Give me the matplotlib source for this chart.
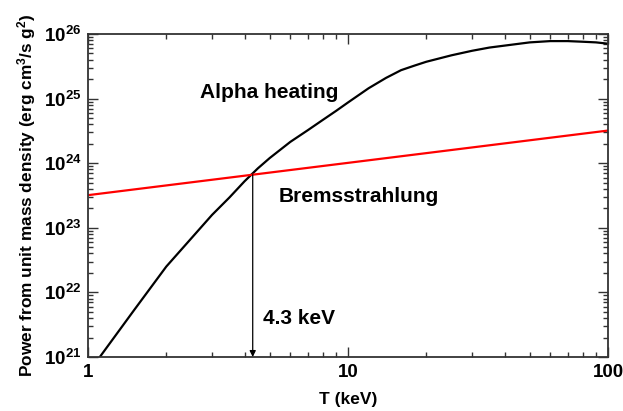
import numpy as np
import matplotlib
matplotlib.use("Agg")
import matplotlib.pyplot as plt
from matplotlib.ticker import LogLocator, FuncFormatter, NullFormatter

plt.rcParams['font.family'] = ['Liberation Sans', 'DejaVu Sans']
plt.rcParams['font.weight'] = 'bold'
plt.rcParams['mathtext.fontset'] = 'custom'
plt.rcParams['mathtext.rm'] = 'Liberation Sans:bold'
plt.rcParams['mathtext.bf'] = 'Liberation Sans:bold'
plt.rcParams['mathtext.it'] = 'Liberation Sans:bold'
plt.rcParams['mathtext.default'] = 'bf'

# Alpha heating curve (T in keV, log10 power)
T_alpha = [1.11, 1.5, 2, 2.5, 3, 3.5, 4, 4.5, 5, 6, 7, 8, 9, 10, 12, 14, 16, 18,
           20, 25, 30, 35, 40, 50, 60, 70, 80, 90, 100]
logP_alpha = [21.00, 21.72, 22.40, 22.84, 23.20, 23.47, 23.72, 23.92, 24.08,
              24.33, 24.51, 24.67, 24.81, 24.94, 25.16, 25.32, 25.44, 25.51,
              25.57, 25.67, 25.74, 25.79, 25.82, 25.87, 25.89, 25.89, 25.88,
              25.87, 25.85]
P_alpha = [10 ** v for v in logP_alpha]

# Bremsstrahlung line
T_brems = [1, 100]
P_brems = [3.2e23, 3.2e24]

T_cross = 4.3
P_cross = 3.2e23 * np.sqrt(T_cross)

fig = plt.figure(figsize=(6.23, 4.11), dpi=100)
ax = fig.add_axes([0.1413, 0.1314, 0.8346, 0.7859])

ax.plot(T_alpha, P_alpha, color='black', lw=1.6)
ax.plot(T_brems, P_brems, color='red', lw=1.6)
ax.annotate('', xy=(T_cross, 1e21), xytext=(T_cross, P_cross),
            arrowprops=dict(arrowstyle='-|>', color='black', lw=0.9,
                            mutation_scale=9, shrinkA=0, shrinkB=0))

ax.set_xscale('log')
ax.set_yscale('log')
ax.set_xlim(1, 100)
ax.set_ylim(1e21, 1e26)

ax.xaxis.set_major_formatter(FuncFormatter(lambda v, p: f'{v:g}'))
ax.yaxis.set_major_locator(LogLocator(base=10, numticks=10))
ax.yaxis.set_major_formatter(FuncFormatter(lambda v, p: r'$\mathbf{10^{%d}}$' % round(np.log10(v))))
ax.yaxis.set_minor_locator(LogLocator(base=10, subs=np.arange(2, 10), numticks=20))
ax.yaxis.set_minor_formatter(NullFormatter())
ax.xaxis.set_minor_formatter(NullFormatter())

ax.tick_params(which='both', direction='in', top=True, right=True, width=1.0, color='#333333')
ax.tick_params(which='major', length=7, labelsize=13.5, pad=5)
ax.tick_params(which='minor', length=3.5)
for s in ax.spines.values():
    s.set_linewidth(1.3)
    s.set_color('#333333')

ax.set_ylabel(r'Power from unit mass density (erg cm$^3$/s g$^2$)', fontsize=12.4,
              fontweight='bold', labelpad=4)
ax.set_xlabel('T (keV)', fontsize=12.5, fontweight='bold', labelpad=8)

ax.text(4.97, 1.26e25, 'Alpha heating', fontsize=15, fontweight='bold', ha='center', va='center')
ax.text(11.0, 3.1e23, 'Bremsstrahlung', fontsize=15, fontweight='bold', ha='center', va='center')
ax.text(6.48, 4.0e21, '4.3 keV', fontsize=15, fontweight='bold', ha='center', va='center')

fig.savefig('out.png', dpi=100)
